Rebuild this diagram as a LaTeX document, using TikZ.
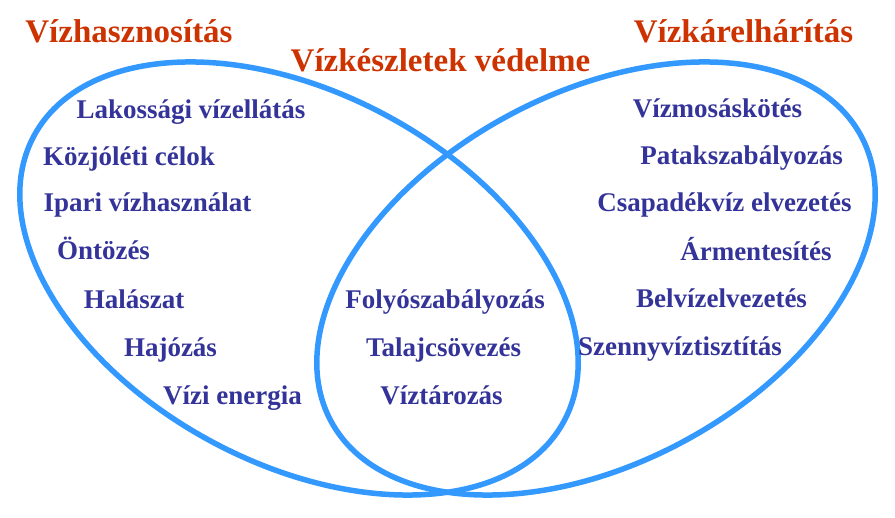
\documentclass[tikz,border=0pt]{standalone}
\usepackage{fontspec}
\setmainfont{Liberation Serif}
\definecolor{ringblue}{RGB}{51,153,255}
\definecolor{headred}{RGB}{204,51,0}
\definecolor{itemblue}{RGB}{51,51,153}

\begin{document}
\begin{tikzpicture}[x=1pt,y=-1pt]
    \useasboundingbox (0,0) rectangle (895,518);
    \begin{scope}[line width=5.5pt, draw=ringblue]
        \draw (299,278.5) ellipse [x radius=301, y radius=185, rotate=-28.3];
        \draw (596,278.5) ellipse [x radius=301, y radius=185, rotate=28.3];
    \end{scope}
    \begin{scope}
        \tikzstyle{every node}=[inner sep=0pt, anchor=base, text=headred, font=\fontsize{33}{33}\selectfont\bfseries]
        \node (head_1) at (129,43) {Vízhasznosítás};
        \node (head_2) at (440.5,72) {Vízkészletek védelme};
        \node (head_3) at (743.5,43) {Vízkárelhárítás};
    \end{scope}
    \begin{scope}
        \tikzstyle{every node}=[inner sep=0pt, anchor=base, text=itemblue, font=\fontsize{27}{27}\selectfont\bfseries]
        \foreach \cx/\by/\txt [count=\i] in {191/119/Lakossági vízellátás, 129/166/Közjóléti célok, 147.5/212/Ipari vízhasználat, 103.5/260/Öntözés, 134/309/Halászat, 170.5/357/Hajózás, 232.5/405/Vízi energia} {
            \node (left_\i) at (\cx,\by) {\txt};
        }
        \foreach \cx/\by/\txt [count=\i] in {445/309/Folyószabályozás, 443.5/357/Talajcsövezés, 441.5/405/Víztározás} {
            \node (mid_\i) at (\cx,\by) {\txt};
        }
        \foreach \cx/\by/\txt [count=\i] in {717.5/118/Vízmosáskötés, 741.5/165/Patakszabályozás, 724.5/212/Csapadékvíz elvezetés, 756/261/Ármentesítés, 721.5/308/Belvízelvezetés, 680/356/Szennyvíztisztítás} {
            \node (right_\i) at (\cx,\by) {\txt};
        }
    \end{scope}
\end{tikzpicture}
\end{document}
